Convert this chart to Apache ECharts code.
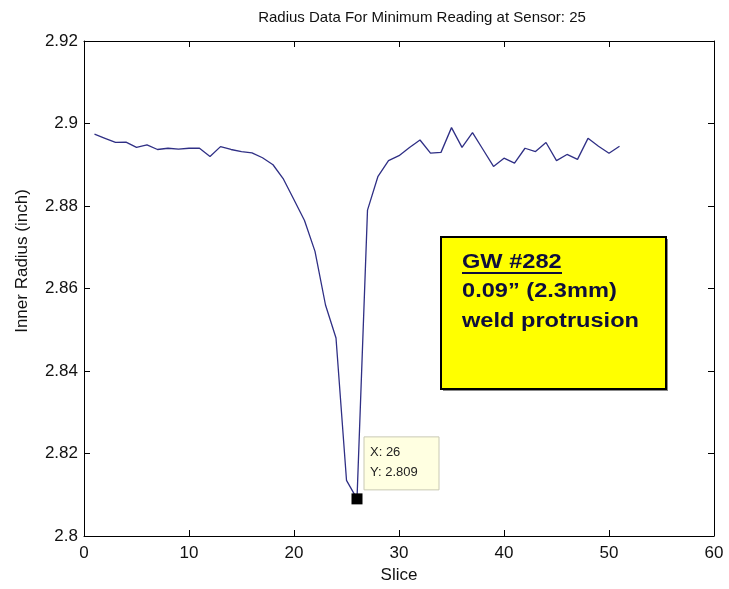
<!DOCTYPE html>
<html>
<head>
<meta charset="utf-8">
<script src="https://cdn.jsdelivr.net/npm/echarts@6/dist/echarts.min.js"></script>
<style>
html, body { margin: 0; padding: 0; background: #fff; }
#chart { width: 729px; height: 589px; }
</style>
</head>
<body>
<div id="chart"></div>
<script>
// slice index and inner radius
const slices = [1, 2, 3, 4, 5, 6, 7, 8, 9, 10, 11, 12, 13, 14, 15, 16, 17, 18, 19, 20,
  21, 22, 23, 24, 25, 26, 27, 28, 29, 30, 31, 32, 33, 34, 35, 36, 37, 38, 39, 40,
  41, 42, 43, 44, 45, 46, 47, 48, 49, 50, 51]
const radius = [2.8974, 2.8964, 2.8954, 2.8955, 2.8942, 2.8948, 2.8937, 2.8940, 2.8938, 2.8940,
  2.8940, 2.8920, 2.8944, 2.8937, 2.8932, 2.8929, 2.8917, 2.8900, 2.8865, 2.8815,
  2.8765, 2.8690, 2.8560, 2.8480, 2.8135, 2.8090, 2.8790, 2.8872, 2.8910, 2.8922,
  2.8942, 2.8960, 2.8928, 2.8930, 2.8990, 2.8942, 2.8978, 2.8937, 2.8896, 2.8916,
  2.8904, 2.8940, 2.8932, 2.8954, 2.8910, 2.8925, 2.8913, 2.8964, 2.8945, 2.8928,
  2.8945]
const yTickLabels = ['2.8', '2.82', '2.84', '2.86', '2.88', '2.9', '2.92']
const xTickLabels = ['0', '10', '20', '30', '40', '50', '60']
const minPoint = [26, 2.809]
const noteLines = ['GW #282', '0.09\u201d (2.3mm)', 'weld protrusion']

const font = 'Liberation Sans, Arial, sans-serif'
const chart = echarts.init(document.getElementById('chart'))

const axisBase = {
  axisLine: { show: true, onZero: false, lineStyle: { color: '#000', width: 1 } },
  axisTick: { show: true, inside: true, length: 6, lineStyle: { color: '#000' } },
  splitLine: { show: false }
}

const option = {
  backgroundColor: '#fff',
  animation: false,
  grid: { left: 84, right: 15, top: 41, bottom: 50 },
  xAxis: [
    Object.assign({
      type: 'value', min: 0, max: 60, interval: 10, position: 'bottom',
      name: 'Slice', nameLocation: 'middle', nameGap: 31,
      nameTextStyle: { fontFamily: font, fontSize: 17, color: '#111' },
      axisLabel: {
        margin: 9, fontFamily: font, fontSize: 17, color: '#111',
        formatter: (v, i) => xTickLabels[i]
      }
    }, axisBase),
    Object.assign({
      type: 'value', min: 0, max: 60, interval: 10, position: 'top',
      axisLabel: { show: false }
    }, axisBase)
  ],
  yAxis: [
    Object.assign({
      type: 'value', min: 2.8, max: 2.92, interval: 0.02, position: 'left',
      axisLabel: {
        margin: 6, fontFamily: font, fontSize: 17, color: '#111',
        formatter: (v, i) => yTickLabels[i]
      }
    }, axisBase),
    Object.assign({
      type: 'value', min: 2.8, max: 2.92, interval: 0.02, position: 'right',
      axisLabel: { show: false }
    }, axisBase)
  ],
  series: [
    {
      type: 'line',
      xAxisIndex: 0,
      yAxisIndex: 0,
      showSymbol: false,
      lineStyle: { color: '#2f2f85', width: 1.3 },
      data: slices.map((s, i) => [s, radius[i]]),
      markPoint: {
        symbol: 'rect',
        symbolSize: 11,
        itemStyle: { color: '#000' },
        label: { show: false },
        data: [{ coord: minPoint }]
      }
    }
  ]
}
chart.setOption(option)

// annotations: title, y name, data tip, yellow note
const tip = chart.convertToPixel({ xAxisIndex: 0, yAxisIndex: 0 }, minPoint)
const tipX = tip[0] + 7
const tipY = tip[1] - 62

const noteText = noteLines.map((t, i) => ({
  type: 'text',
  x: 462,
  y: 262 + i * 29.5,
  scaleX: 1.18,
  style: {
    text: t, fontFamily: font, fontSize: 20, fontWeight: 'bold',
    fill: '#0e0e3c', verticalAlign: 'middle'
  }
}))

chart.setOption({
  graphic: [
    {
      type: 'text', x: 422, y: 18,
      style: {
        text: 'Radius Data For Minimum Reading at Sensor: 25',
        fontFamily: font, fontSize: 15, fill: '#111',
        align: 'center', verticalAlign: 'middle'
      }
    },
    {
      type: 'text', x: 22, y: 261, rotation: Math.PI / 2,
      style: {
        text: 'Inner Radius (inch)', fontFamily: font, fontSize: 17, fill: '#111',
        align: 'center', verticalAlign: 'middle'
      }
    },
    {
      type: 'rect',
      shape: { x: tipX, y: tipY, width: 75, height: 53 },
      style: { fill: '#ffffe1', stroke: '#c9c9b4', lineWidth: 1 }
    },
    {
      type: 'text', x: tipX + 6, y: tipY + 16,
      style: { text: 'X: 26', fontFamily: font, fontSize: 13, fill: '#222', verticalAlign: 'middle' }
    },
    {
      type: 'text', x: tipX + 6, y: tipY + 36,
      style: { text: 'Y: 2.809', fontFamily: font, fontSize: 13, fill: '#222', verticalAlign: 'middle' }
    },
    {
      type: 'rect',
      shape: { x: 443, y: 239, width: 225, height: 152 },
      style: { fill: '#888' }
    },
    {
      type: 'rect',
      shape: { x: 441, y: 237, width: 225, height: 152 },
      style: { fill: '#ffff00', stroke: '#000', lineWidth: 2 }
    },
    ...noteText,
    {
      type: 'line',
      shape: { x1: 462, y1: 273, x2: 562, y2: 273 },
      style: { stroke: '#0e0e3c', lineWidth: 2 }
    }
  ]
})
</script>
</body>
</html>
